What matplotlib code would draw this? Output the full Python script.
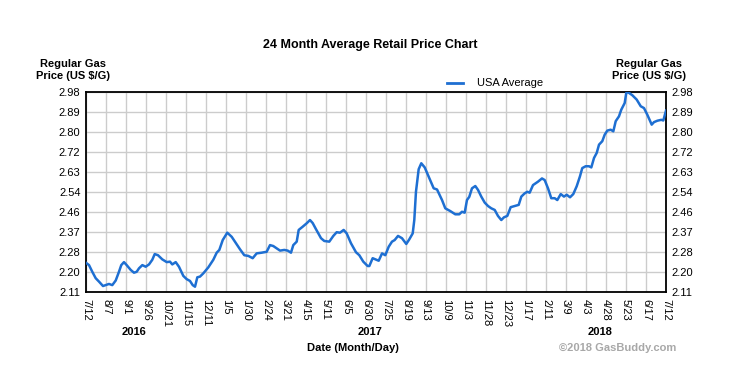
import matplotlib
matplotlib.use("Agg")
import matplotlib.pyplot as plt
import numpy as np

plt.rcParams['font.family'] = ['Liberation Sans', 'DejaVu Sans']

# Days since 2016-07-12
days = [0, 3.8, 7.9, 12.2, 16.4, 21.4, 24.8, 28.9, 33.1, 37.4, 41.5, 44.4, 47.8, 51.2,
        56.3, 60.4, 63.8, 66.7, 70.9, 75.1, 79.3, 83.4, 86.5, 90.6, 96.0, 101.6, 105.7,
        108.6, 112.9, 117.0, 122.5, 126.7, 130.9, 134.3, 137.2, 140.1, 143.5, 147.6,
        153.9, 160.2, 164.5, 167.8, 172.1, 177.8, 183.4, 188.8, 193.8, 199.2, 204.3,
        209.8, 214.8, 221.1, 227.4, 231.6, 235.7, 240.0, 244.2, 249.6, 253.9, 258.0,
        260.9, 265.2, 267.7, 272.7, 277.8, 281.9, 285.3, 289.5, 295.8, 299.9, 306.2,
        311.3, 315.5, 319.7, 324.3, 328.1, 333.5, 339.8, 344.0, 349.0, 354.5, 356.6,
        360.8, 364.1, 368.4, 372.6, 376.7, 381.0, 385.1, 388.5, 392.7, 397.7, 403.1,
        406.9, 411.2, 413.2, 415.3, 418.7, 422.0, 426.3, 431.3, 437.6, 441.8, 448.1,
        452.2, 458.5, 464.8, 469.8, 473.2, 476.6, 479.5, 482.4, 485.8, 490.0, 493.4,
        497.5, 501.8, 506.0, 510.1, 514.4, 518.5, 522.7, 526.1, 530.3, 534.5, 539.6,
        544.6, 547.9, 552.1, 555.4, 558.4, 562.6, 568.9, 573.9, 577.3, 581.5, 585.6,
        589.9, 593.2, 597.5, 601.6, 605.0, 609.2, 613.3, 617.6, 621.7, 624.6, 628.9,
        633.1, 636.0, 639.4, 642.8, 645.7, 649.8, 652.8, 656.1, 660.4, 663.7, 666.7,
        670.8, 673.7, 678.0, 680.0, 682.2, 687.6, 693.1, 698.2, 702.3, 706.5, 709.9,
        712.0, 714.9, 719.1, 724.1, 726.6, 730.0]
usa_average = [2.237, 2.227, 2.198, 2.170, 2.155, 2.136, 2.140, 2.145, 2.140, 2.160,
               2.198, 2.227, 2.240, 2.227, 2.206, 2.194, 2.198, 2.213, 2.227, 2.220,
               2.230, 2.250, 2.275, 2.270, 2.252, 2.240, 2.242, 2.230, 2.240, 2.220,
               2.180, 2.166, 2.158, 2.140, 2.133, 2.174, 2.177, 2.191, 2.217, 2.250,
               2.281, 2.293, 2.336, 2.368, 2.350, 2.322, 2.296, 2.270, 2.267, 2.257,
               2.278, 2.281, 2.285, 2.314, 2.310, 2.300, 2.290, 2.293, 2.290, 2.281,
               2.314, 2.329, 2.380, 2.394, 2.409, 2.423, 2.410, 2.383, 2.344, 2.332,
               2.329, 2.354, 2.370, 2.368, 2.380, 2.365, 2.322, 2.283, 2.270, 2.242,
               2.223, 2.223, 2.257, 2.252, 2.246, 2.278, 2.270, 2.307, 2.329, 2.336,
               2.354, 2.344, 2.319, 2.339, 2.365, 2.423, 2.546, 2.644, 2.670, 2.652,
               2.612, 2.561, 2.556, 2.510, 2.474, 2.462, 2.448, 2.448, 2.459, 2.455,
               2.510, 2.524, 2.561, 2.571, 2.554, 2.525, 2.499, 2.484, 2.474, 2.467,
               2.441, 2.423, 2.435, 2.441, 2.479, 2.484, 2.489, 2.525, 2.539, 2.546,
               2.542, 2.575, 2.590, 2.604, 2.597, 2.561, 2.518, 2.518, 2.510, 2.536,
               2.525, 2.533, 2.522, 2.536, 2.570, 2.613, 2.649, 2.657, 2.657, 2.652,
               2.693, 2.715, 2.751, 2.766, 2.794, 2.812, 2.816, 2.809, 2.853, 2.874,
               2.903, 2.932, 2.976, 2.979, 2.966, 2.947, 2.918, 2.910, 2.881, 2.855,
               2.838, 2.849, 2.855, 2.859, 2.856, 2.899]

x_tick_labels = ["7/12", "8/7", "9/1", "9/26", "10/21", "11/15", "12/11", "1/5", "1/30",
                 "2/24", "3/21", "4/15", "5/11", "6/5", "6/30", "7/25", "8/19", "9/13",
                 "10/9", "11/3", "11/28", "12/23", "1/17", "2/11", "3/9", "4/3", "4/28",
                 "5/23", "6/17", "7/12"]
y_tick_labels = ["2.11", "2.20", "2.28", "2.37", "2.46", "2.54", "2.63", "2.72",
                 "2.80", "2.89", "2.98"]
years = ["2016", "2017", "2018"]
year_positions = [60, 357, 647]

total_days = 730
ymin, ymax = 2.11, 2.98

fig = plt.figure(figsize=(7.51, 3.87), dpi=100)
ax = fig.add_axes([86/751, 1 - 292/387, 580/751, 200/387])

line_color = '#1e6fd2'
ax.plot(days, usa_average, color=line_color, lw=1.8, solid_joinstyle='round', zorder=3)

ax.set_xlim(0, total_days)
ax.set_ylim(ymin, ymax)

xt = np.linspace(0, total_days, len(x_tick_labels))
yt = np.linspace(ymin, ymax, len(y_tick_labels))
ax.set_xticks(xt)
ax.set_xticklabels(x_tick_labels, rotation=-90, fontsize=8, va='top', ha='center')
ax.set_yticks(yt)
ax.set_yticklabels(y_tick_labels, fontsize=8)
ax.tick_params(axis='both', length=0, pad=5)
ax.tick_params(axis='y', labelright=True, right=False, pad=4)
ax.grid(True, color='#cccccc', lw=1)
ax.set_axisbelow(True)
for s in ax.spines.values():
    s.set_linewidth(1.3)
    s.set_color('black')

fig.text(370/751, 1 - 45/387, "24 Month Average Retail Price Chart", ha='center',
         va='center', fontsize=9, fontweight='bold')
fig.text(73/751, 1 - 70/387, "Regular Gas\nPrice (US $/G)", ha='center', va='center',
         fontsize=8, fontweight='bold', linespacing=1.15)
fig.text(649/751, 1 - 70/387, "Regular Gas\nPrice (US $/G)", ha='center', va='center',
         fontsize=8, fontweight='bold', linespacing=1.15)

# legend
fig.add_artist(plt.Line2D([447/751, 463/751], [1 - 83/387, 1 - 83/387], color=line_color, lw=2))
fig.text(477/751, 1 - 83/387, "USA Average", ha='left', va='center', fontsize=8)

for yr, pos in zip(years, year_positions):
    ax.text(pos, -0.20, yr, transform=ax.get_xaxis_transform(), ha='center', va='center',
            fontsize=8, fontweight='bold')

fig.text(353/751, 1 - 348/387, "Date (Month/Day)", ha='center', va='center',
         fontsize=8, fontweight='bold')
fig.text(618/751, 1 - 348/387, "\u00a92018 GasBuddy.com", ha='center', va='center',
         fontsize=8, fontweight='bold', color='#a8a8a8')

fig.savefig("out.png", dpi=100)
